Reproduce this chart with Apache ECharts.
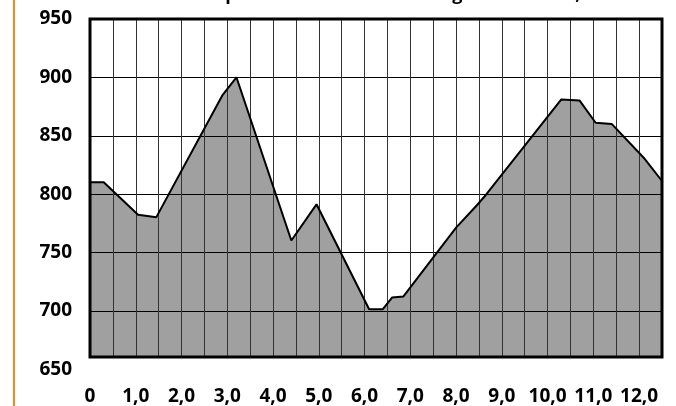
<!DOCTYPE html>
<html>
<head>
<meta charset="utf-8">
<script src="https://cdn.jsdelivr.net/npm/echarts@6/dist/echarts.min.js"></script>
<style>
  html, body { margin: 0; padding: 0; background: #fff; }
  #chart { position: absolute; left: 0; top: 0; width: 676px; height: 406px; }
  #edge { position: absolute; left: 13px; top: 0; width: 2px; height: 406px; background: #F5891F; }
</style>
</head>
<body>
<div id="edge"></div>
<div id="chart"></div>
<script>
// distance along route (km) and elevation (m)
const distKm = [0, 0.3, 1.05, 1.45, 2.9, 3.2, 4.4, 4.95, 6.1, 6.4, 6.6, 6.85, 8.0, 8.45, 8.65, 10.3, 10.7, 11.05, 11.4, 12.1, 12.5];
const elevM  = [810, 810, 782, 780, 885, 900, 760, 791, 701, 701, 711, 712, 771, 790, 799, 881, 880, 861, 860, 831, 811];
const xTickLabels = ['0', '1,0', '2,0', '3,0', '4,0', '5,0', '6,0', '7,0', '8,0', '9,0', '10,0', '11,0', '12,0'];
const yTicks = [650, 700, 750, 800, 850, 900, 950];
const titleText = 'Höhenprofil der Rundwanderung ab Ortskern, Höhe in m';

const pts = distKm.map((d, i) => [d, elevM[i]]);
const FONT = 'Open Sans';

const chart = echarts.init(document.getElementById('chart'), null, { renderer: 'canvas' });
chart.setOption({
  animation: false,
  title: {
    text: titleText,
    left: 161,
    top: -20,
    textStyle: { fontFamily: FONT, fontWeight: 'bold', fontSize: 18, color: '#000', lineHeight: 20 }
  },
  grid: [
    { left: 90, right: 14, top: 19, bottom: 48, show: true, borderColor: '#000', borderWidth: 3, backgroundColor: 'transparent', z: 20 },
    { left: 90, right: 14, top: 19, bottom: 36.5 }
  ],
  xAxis: [
    {
      type: 'value', gridIndex: 0, min: 0, max: 12.5, interval: 0.5, z: 5,
      axisLine: { show: false }, axisTick: { show: false },
      splitLine: { show: true, showMinLine: false, showMaxLine: false, lineStyle: { color: '#333', width: 1 } },
      axisLabel: {
        margin: 30, fontFamily: FONT, fontWeight: 'bold', fontSize: 19, color: '#000',
        showMinLabel: true, showMaxLabel: true,
        formatter: function (v) {
          const k = Math.round(v * 2);
          if (k % 2 !== 0) return '';
          return xTickLabels[k / 2] || '';
        }
      }
    },
    { type: 'value', gridIndex: 1, min: 0, max: 12.5, show: false }
  ],
  yAxis: [
    { type: 'value', gridIndex: 0, min: 660, max: 950, show: false, splitLine: { show: false } },
    {
      type: 'value', gridIndex: 1, min: yTicks[0], max: yTicks[yTicks.length - 1], interval: 50, z: 5,
      axisLine: { show: false }, axisTick: { show: false },
      splitLine: { show: true, showMinLine: false, showMaxLine: false, lineStyle: { color: '#000', width: 1 } },
      axisLabel: { margin: 18, fontFamily: FONT, fontWeight: 'bold', fontSize: 19, color: '#000' }
    }
  ],
  series: [
    {
      type: 'line', xAxisIndex: 0, yAxisIndex: 0, data: pts, symbol: 'none', z: 1,
      lineStyle: { width: 0 }, areaStyle: { color: '#a0a0a0', opacity: 1 }, silent: true
    },
    {
      type: 'line', xAxisIndex: 0, yAxisIndex: 0, data: pts, symbol: 'none', z: 10,
      lineStyle: { color: '#000', width: 2 }, silent: true
    }
  ]
});
</script>
</body>
</html>
